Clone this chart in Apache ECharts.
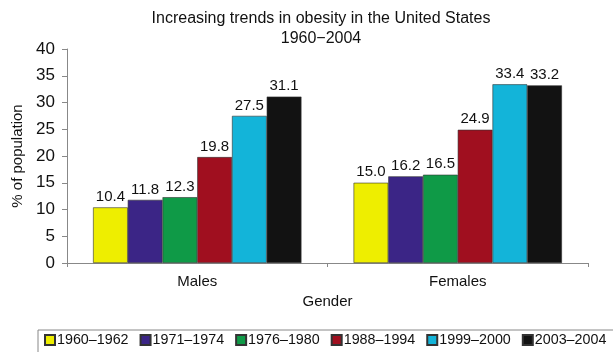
<!DOCTYPE html>
<html>
<head>
<meta charset="utf-8">
<script src="https://cdn.jsdelivr.net/npm/echarts@6/dist/echarts.min.js"></script>
<style>
  html, body { margin: 0; padding: 0; background: #fff; }
  #main { width: 613px; height: 352px; }
</style>
</head>
<body>
<div id="main"></div>
<script>
// data
var genders = ['Males', 'Females'];
var periods = ['1960–1962', '1971–1974', '1976–1980', '1988–1994', '1999–2000', '2003–2004'];
var v1960 = [10.4, 15.0];
var v1971 = [11.8, 16.2];
var v1976 = [12.3, 16.5];
var v1988 = [19.8, 24.9];
var v1999 = [27.5, 33.4];
var v2003 = [31.1, 33.2];
var yTicks = [0, 5, 10, 15, 20, 25, 30, 35, 40];

var values = [v1960, v1971, v1976, v1988, v1999, v2003];
var colors = ['#eeee00', '#3b2586', '#0f9a47', '#a00f1f', '#13b4d9', '#121212'];
var font = 'Liberation Sans, Arial, sans-serif';

var myChart = echarts.init(document.getElementById('main'));

var series = [];
for (var i = 0; i < periods.length; i++) {
    series.push({
        name: periods[i],
        type: 'bar',
        data: values[i],
        barGap: '0%',
        barCategoryGap: '20%',
        itemStyle: {
            color: colors[i],
            borderColor: '#333',
            borderWidth: 0.6
        },
        label: {
            show: true,
            position: 'top',
            distance: 3,
            color: '#111',
            fontSize: 15,
            fontFamily: font,
            formatter: function (p) { return p.value.toFixed(1); }
        }
    });
}

var option = {
    animation: false,
    backgroundColor: '#fff',
    title: {
        text: 'Increasing trends in obesity in the United States\n1960\u22122004',
        left: 321,
        top: 9,
        padding: 0,
        textAlign: 'center',
        textStyle: {
            fontSize: 16,
            fontWeight: 'normal',
            color: '#111',
            fontFamily: font,
            lineHeight: 20
        }
    },
    legend: {
        data: periods,
        left: 38,
        top: 330,
        width: 640,
        padding: [3, 30, 6, 6],
        itemWidth: 10,
        itemHeight: 10,
        itemGap: 11,
        icon: 'rect',
        borderColor: '#888',
        borderWidth: 1,
        textStyle: {
            fontSize: 14.3,
            color: '#111',
            fontFamily: font,
            padding: [0, 0, 0, -3]
        }
    },
    grid: {
        left: 67,
        right: 25,
        top: 49,
        bottom: 89,
        containLabel: false
    },
    xAxis: {
        type: 'category',
        data: genders,
        name: 'Gender',
        nameLocation: 'middle',
        nameGap: 28,
        nameTextStyle: { fontSize: 15, color: '#111', fontFamily: font },
        axisLine: { lineStyle: { color: '#888', width: 1 } },
        axisTick: { show: true, length: 4, lineStyle: { color: '#888' } },
        axisLabel: { margin: 11, fontSize: 15, color: '#111', fontFamily: font }
    },
    yAxis: {
        type: 'value',
        min: yTicks[0],
        max: yTicks[yTicks.length - 1],
        interval: 5,
        name: '% of population',
        nameLocation: 'middle',
        nameGap: 41,
        nameTextStyle: { fontSize: 15, color: '#111', fontFamily: font },
        splitLine: { show: false },
        axisLine: { show: true, lineStyle: { color: '#888', width: 1 } },
        axisTick: { show: true, length: 5, lineStyle: { color: '#888' } },
        axisLabel: { margin: 12, fontSize: 17, color: '#111', fontFamily: font }
    },
    series: series
};

myChart.setOption(option);
</script>
</body>
</html>
